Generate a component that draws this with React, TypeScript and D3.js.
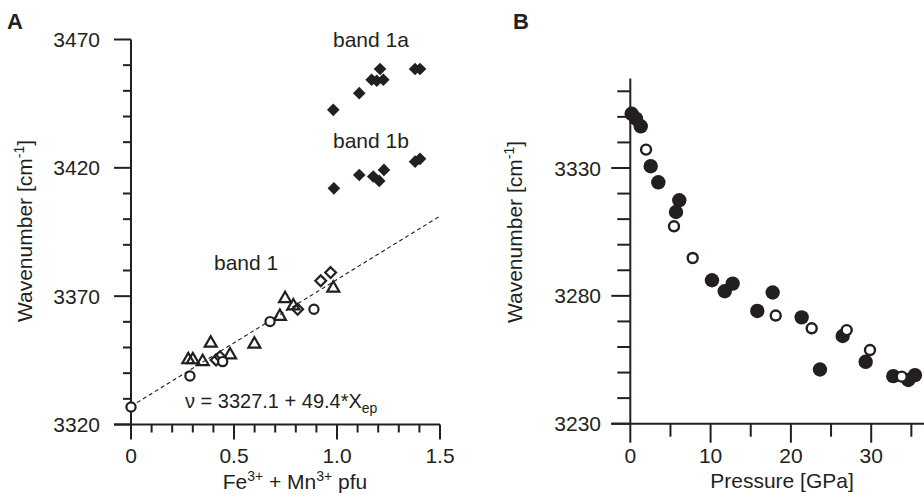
import React from "react";
import * as d3 from "d3";

// ---------- Panel A data ----------
const band1aX = [0.982, 1.108, 1.168, 1.193, 1.225, 1.209, 1.379, 1.403];
const band1aY = [3442.6, 3449.1, 3454.3, 3453.9, 3454.3, 3458.5, 3458.5, 3458.5];
const band1bX = [0.985, 1.108, 1.176, 1.205, 1.228, 1.379, 1.403];
const band1bY = [3412, 3417.2, 3416.6, 3414.9, 3419.2, 3422.4, 3423.5];
const triX = [0.278, 0.3, 0.348, 0.387, 0.481, 0.599, 0.723, 0.748, 0.788, 0.982];
const triY = [3345.2, 3345.2, 3344.5, 3351.7, 3347.1, 3351.3, 3362.1, 3369.0, 3366.2, 3373.1];
const diaX = [0.413, 0.432, 0.809, 0.921, 0.969];
const diaY = [3345.1, 3346.4, 3364.9, 3376, 3379.2];
const circX = [0, 0.286, 0.445, 0.675, 0.888];
const circY = [3326.8, 3338.9, 3344.5, 3360.1, 3364.9];
const fitIntercept = 3327.1;
const fitSlope = 49.4;
const aXTicks = [0, 0.5, 1.0, 1.5];
const aXTickLabels = ["0", "0.5", "1.0", "1.5"];
const aYTicks = [3320, 3370, 3420, 3470];

// ---------- Panel B data ----------
const filledP = [0.17, 0.71, 1.3, 2.54, 3.49, 6.1, 5.69, 10.17, 11.76, 12.75, 15.82, 17.73, 21.34, 23.62, 26.45, 29.31, 32.75, 34.62, 35.45];
const filledW = [3351.2, 3349.3, 3346.3, 3330.7, 3324.4, 3317.4, 3312.8, 3286.1, 3281.8, 3284.8, 3274.1, 3281.3, 3271.6, 3251.2, 3264.3, 3254.2, 3248.6, 3247.1, 3249];
const openP = [1.96, 5.44, 7.77, 18.11, 22.59, 26.95, 29.85, 33.8];
const openW = [3337.2, 3307.2, 3294.8, 3272.3, 3267.3, 3266.6, 3258.8, 3248.4];
const bXTicks = [0, 10, 20, 30];
const bYTicks = [3230, 3280, 3330];

const INK = "#231f20";
const FONT = "'Liberation Sans', Arial, Helvetica, sans-serif";

export default function App() {
  // Panel A scales
  const ax = d3.scaleLinear().domain([0, 1.5]).range([131, 440]);
  const ay = d3.scaleLinear().domain([3320, 3470]).range([424.5, 39.5]);
  // Panel B scales
  const bx = d3.scaleLinear().domain([0, 30]).range([630.3, 871.2]);
  const by = d3.scaleLinear().domain([3230, 3330]).range([423.7, 168]);

  const triPath = d3.symbol().type(d3.symbolTriangle).size(62)() as string;
  const diamond = (h: number) => `M0,${-h}L${h},0L0,${h}L${-h},0Z`;

  const aMinorX = d3.range(0, 1.5001, 0.1);
  const aMinorY = d3.range(3320, 3470.001, 10);
  const bMinorX = d3.range(0, 35.001, 5);
  const bMinorY = d3.range(3230, 3360.001, 10);
  const bYTop = by(3365);

  const fitLine = d3.line<number>().x((d) => ax(d)).y((d) => ay(fitIntercept + fitSlope * d));

  return (
    <svg width={924} height={497} style={{ position: "absolute", left: 0, top: 0, background: "#fff" }} fontFamily={FONT}>
      <rect width={924} height={497} fill="#fff" />
      {/* Panel labels */}
      <text x={7} y={29} fontSize={22} fontWeight="bold" fill={INK}>A</text>
      <text x={513} y={29} fontSize={22} fontWeight="bold" fill={INK}>B</text>

      {/* ===== Panel A axes ===== */}
      <g stroke={INK} strokeWidth={2} fill="none">
        <line x1={ax(0)} x2={ax(0)} y1={ay(3470)} y2={ay(3320)} />
        <line x1={ax(0) - 17} x2={ax(1.5)} y1={ay(3320)} y2={ay(3320)} />
        {aMinorY.map((v) => {
          const major = aYTicks.some((t) => Math.abs(t - v) < 1e-6);
          return <line key={"ay" + v} x1={ax(0) - (major ? 17 : 8)} x2={ax(0)} y1={ay(v)} y2={ay(v)} />;
        })}
        {aMinorX.map((v) => {
          const major = aXTicks.some((t) => Math.abs(t - v) < 1e-6);
          return <line key={"ax" + v} x1={ax(v)} x2={ax(v)} y1={ay(3320)} y2={ay(3320) + (major ? 15 : 8)} />;
        })}
      </g>
      <g fill={INK} fontSize={21}>
        {aYTicks.map((t) => (
          <text key={"ayl" + t} x={100} y={ay(t) + 7.5} textAnchor="end">{t}</text>
        ))}
        {aXTicks.map((t, i) => (
          <text key={"axl" + t} x={ax(t)} y={463} textAnchor="middle">{aXTickLabels[i]}</text>
        ))}
        <text x={295} y={489} textAnchor="middle">
          Fe<tspan fontSize={14} dy={-8}>3+</tspan>
          <tspan dy={8}> + Mn</tspan>
          <tspan fontSize={14} dy={-8}>3+</tspan>
          <tspan dy={8}> pfu</tspan>
        </text>
        <text transform="translate(32,231) rotate(-90)" textAnchor="middle">
          Wavenumber [cm<tspan fontSize={14} dy={-8}>-1</tspan>
          <tspan dy={8}>]</tspan>
        </text>
        <text x={333} y={47}>band 1a</text>
        <text x={333} y={148}>band 1b</text>
        <text x={214} y={270}>band 1</text>
        <text x={185} y={408} fontSize={20}>
          ν = 3327.1 + 49.4*X<tspan fontSize={14} dy={5}>ep</tspan>
        </text>
      </g>

      {/* fit line */}
      <path d={fitLine([0, 1.5]) as string} stroke={INK} strokeWidth={1.1} strokeDasharray="4,3" fill="none" />

      {/* Band 1a / 1b filled diamonds */}
      <g fill={INK}>
        {band1aX.map((x, i) => (
          <path key={"a" + i} d={diamond(6.3)} transform={`translate(${ax(x)},${ay(band1aY[i])})`} />
        ))}
        {band1bX.map((x, i) => (
          <path key={"b" + i} d={diamond(6.3)} transform={`translate(${ax(x)},${ay(band1bY[i])})`} />
        ))}
      </g>
      {/* Band 1 open markers */}
      <g fill="none" stroke={INK} strokeWidth={2.2}>
        {triX.map((x, i) => (
          <path key={"t" + i} d={triPath} transform={`translate(${ax(x)},${ay(triY[i])})`} />
        ))}
        {diaX.map((x, i) => (
          <path key={"d" + i} d={diamond(5.4)} transform={`translate(${ax(x)},${ay(diaY[i])})`} />
        ))}
        {circX.map((x, i) => (
          <circle key={"c" + i} cx={ax(x)} cy={ay(circY[i])} r={4.6} fill="#fff" />
        ))}
      </g>

      {/* ===== Panel B axes ===== */}
      <g stroke={INK} strokeWidth={2} fill="none">
        <line x1={bx(0)} x2={bx(0)} y1={bYTop} y2={by(3230)} />
        <line x1={bx(0) - 19} x2={924} y1={by(3230)} y2={by(3230)} />
        {bMinorY.map((v) => {
          const major = bYTicks.some((t) => Math.abs(t - v) < 1e-6);
          return <line key={"by" + v} x1={bx(0) - (major ? 19 : 13)} x2={bx(0)} y1={by(v)} y2={by(v)} />;
        })}
        {bMinorX.map((v) => {
          const major = bXTicks.some((t) => Math.abs(t - v) < 1e-6);
          return <line key={"bx" + v} x1={bx(v)} x2={bx(v)} y1={by(3230)} y2={by(3230) + (major ? 19 : 13)} />;
        })}
      </g>
      <g fill={INK} fontSize={21}>
        {bYTicks.map((t) => (
          <text key={"byl" + t} x={601} y={by(t) + 7.5} textAnchor="end">{t}</text>
        ))}
        {bXTicks.map((t) => (
          <text key={"bxl" + t} x={bx(t)} y={463} textAnchor="middle">{t}</text>
        ))}
        <text x={782} y={488} textAnchor="middle">Pressure [GPa]</text>
        <text transform="translate(522,232) rotate(-90)" textAnchor="middle">
          Wavenumber [cm<tspan fontSize={14} dy={-8}>-1</tspan>
          <tspan dy={8}>]</tspan>
        </text>
      </g>

      {/* Panel B markers */}
      <g fill={INK}>
        {filledP.map((p, i) => (
          <circle key={"f" + i} cx={bx(p)} cy={by(filledW[i])} r={7.2} />
        ))}
      </g>
      <g fill="#fff" stroke={INK} strokeWidth={2.4}>
        {openP.map((p, i) => (
          <circle key={"o" + i} cx={bx(p)} cy={by(openW[i])} r={5} />
        ))}
      </g>
    </svg>
  );
}
